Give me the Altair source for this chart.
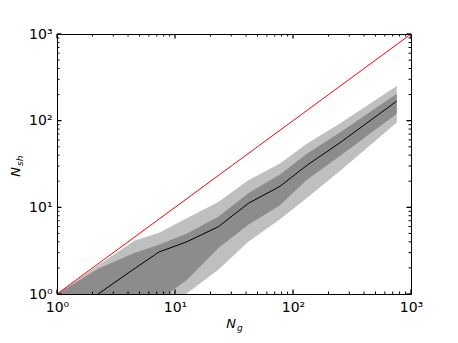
import altair as alt
import pandas as pd

# ---- data ----
ng = [1, 2.23, 4.58, 7.32, 12.6, 23.3, 41.8, 77.6, 131, 250, 757]
light_hi = [1, 2.15, 4.15, 5.1, 7.5, 11.5, 20.5, 32.0, 54.0, 92.6, 251]
dark_hi = [1, 1.95, 3.0, 3.7, 5.0, 7.8, 14.5, 24.0, 41.5, 73.1, 204]
dark_lo = [0.3, 0.45, 0.65, 0.85, 1.45, 3.4, 6.3, 10.6, 20.8, 39.1, 120]
light_lo = [0.1, 0.2, 0.4, 0.6, 1.02, 1.9, 4.0, 7.3, 12.8, 26.3, 95]
median_ng = [2.23, 4.58, 7.32, 12.6, 23.3, 41.8, 77.6, 131, 250, 757]
median_nsh = [1.0, 1.98, 3.05, 4.01, 5.97, 11.1, 17.5, 30.5, 55.6, 168]
one_to_one = [1, 1000]
major_ticks = [1, 10, 100, 1000]
minor_ticks = [2, 3, 4, 5, 6, 7, 8, 9, 20, 30, 40, 50, 60, 70, 80, 90,
               200, 300, 400, 500, 600, 700, 800, 900]

W, H = 354, 260
MAJ, MIN = 4.5, 2.5

band = pd.DataFrame({"ng": ng, "lh": light_hi, "dh": dark_hi,
                     "dl": dark_lo, "ll": light_lo})
med = pd.DataFrame({"ng": median_ng, "nsh": median_nsh})
diag = pd.DataFrame({"ng": one_to_one, "nsh": one_to_one})
maj = pd.DataFrame({"v": major_ticks})
mnr = pd.DataFrame({"v": minor_ticks})
one = pd.DataFrame({"a": [0]})

XS = alt.Scale(type="log", domain=[1, 1000], nice=False)
YS = alt.Scale(type="log", domain=[1, 1000], nice=False)
lab = ("'10' + (datum.value == 1 ? '⁰' : datum.value == 10 ? '¹' : "
       "datum.value == 100 ? '²' : '³')")
XA = alt.Axis(values=major_ticks, labelExpr=lab, ticks=False, domain=False,
              grid=False, title=None, labelPadding=6, labelFlush=False)
YA = alt.Axis(values=major_ticks, labelExpr=lab, ticks=False, domain=False,
              grid=False, title=None, labelPadding=5, labelFlush=False)


def X(f):
    return alt.X(f, type="quantitative", scale=XS, axis=XA)


def Y(f):
    return alt.Y(f, type="quantitative", scale=YS, axis=YA)


layers = [
    alt.Chart(band).mark_area(color="#bfbfbf", clip=True).encode(
        x=X("ng"), y=Y("ll"), y2="lh"),
    alt.Chart(band).mark_area(color="#8c8c8c", clip=True).encode(
        x=X("ng"), y=Y("dl"), y2="dh"),
    alt.Chart(med).mark_line(color="black", strokeWidth=1, clip=True).encode(
        x=X("ng"), y=Y("nsh")),
    alt.Chart(diag).mark_line(color="#ff0000", strokeWidth=1, clip=True).encode(
        x=X("ng"), y=Y("nsh")),
]

for df, ln, sw in [(maj, MAJ, 1.3), (mnr, MIN, 1.0)]:
    layers.append(alt.Chart(df).mark_rule(color="black", strokeWidth=sw).encode(
        x=X("v"), y=alt.value(H), y2=alt.value(H - ln)))
    layers.append(alt.Chart(df).mark_rule(color="black", strokeWidth=sw).encode(
        x=X("v"), y=alt.value(0), y2=alt.value(ln)))
    layers.append(alt.Chart(df).mark_rule(color="black", strokeWidth=sw).encode(
        y=Y("v"), x=alt.value(0), x2=alt.value(ln)))
    layers.append(alt.Chart(df).mark_rule(color="black", strokeWidth=sw).encode(
        y=Y("v"), x=alt.value(W), x2=alt.value(W - ln)))

# axis titles (N_g below, N_sh at left)
layers += [
    alt.Chart(one).mark_text(text="N", font="DejaVu Sans", fontSize=13,
                             fontStyle="italic", align="center",
                             baseline="alphabetic").encode(
        x=alt.value(174), y=alt.value(294)),
    alt.Chart(one).mark_text(text="g", font="DejaVu Sans", fontSize=9,
                             fontStyle="italic", align="left",
                             baseline="alphabetic").encode(
        x=alt.value(180), y=alt.value(297)),
    alt.Chart(one).mark_text(text="N", font="DejaVu Sans", fontSize=13,
                             fontStyle="italic", align="center",
                             baseline="alphabetic", angle=270).encode(
        x=alt.value(-37), y=alt.value(138)),
    alt.Chart(one).mark_text(text="sh", font="DejaVu Sans", fontSize=9,
                             fontStyle="italic", align="left",
                             baseline="alphabetic", angle=270).encode(
        x=alt.value(-34), y=alt.value(132)),
]

chart = alt.layer(*layers).properties(
    width=W, height=H,
    autosize=alt.AutoSizeParams(type="none"),
    padding={"left": 49, "top": 26, "right": 39, "bottom": 41},
).configure_view(stroke="black", strokeWidth=1).configure_axis(
    labelFont="DejaVu Sans", labelFontSize=14, labelColor="black"
)

chart.save("out.html", embed_options={"renderer": "svg", "actions": False})
